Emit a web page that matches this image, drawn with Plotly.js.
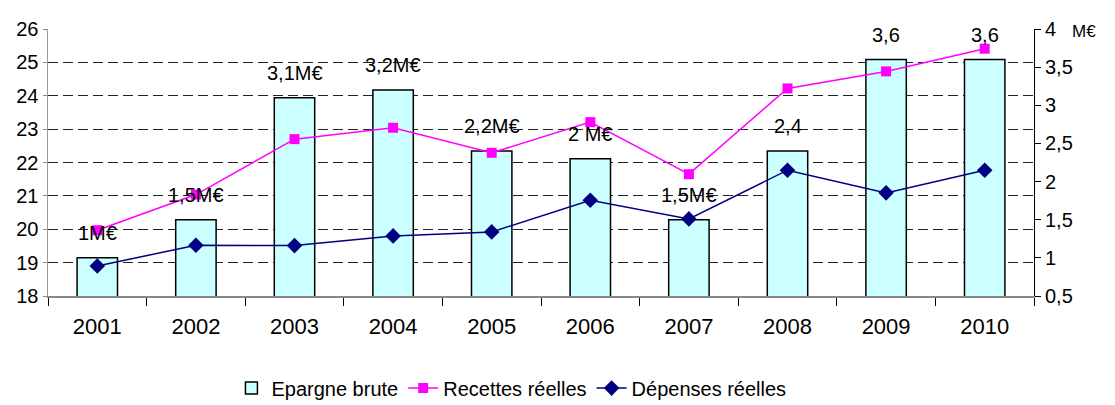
<!DOCTYPE html>
<html>
<head>
<meta charset="utf-8">
<script src="https://cdn.plot.ly/plotly-3.0.1.min.js"></script>
<style>html,body{margin:0;padding:0;background:#fff;}#chart{width:1115px;height:405px;}</style>
</head>
<body>
<div id="chart"></div>
<script>
const years = ['2001','2002','2003','2004','2005','2006','2007','2008','2009','2010'];
const epargneBrute = [1.0, 1.5, 3.1, 3.2, 2.4, 2.3, 1.5, 2.4, 3.6, 3.6];
const epargneLabels = ['1M€','1,5M€','3,1M€','3,2M€','2,2M€','2 M€','1,5M€','2,4','3,6','3,6'];
const recettes = [19.97, 21.04, 22.70, 23.04, 22.29, 23.21, 21.65, 24.22, 24.73, 25.41];
const depenses = [18.90, 19.52, 19.51, 19.80, 19.92, 20.87, 20.31, 21.77, 21.09, 21.77];
const rightTickVals = [0.5, 1, 1.5, 2, 2.5, 3, 3.5, 4];
const rightTickText = ['0,5', '1', '1,5', '2', '2,5', '3', '3,5', '4'];

const FONT = 'Liberation Sans, Arial, sans-serif';

const traces = [
  {
    type: 'bar', name: 'Epargne brute', x: years, y: epargneBrute, yaxis: 'y',
    marker: {color: '#CCFFFF', line: {color: '#000000', width: 1.5}},
    hoverinfo: 'skip'
  },
  {
    type: 'scatter', mode: 'lines+markers', name: 'Recettes réelles', x: years, y: recettes, yaxis: 'y2',
    line: {color: '#FF00FF', width: 1.5},
    marker: {symbol: 'square', size: 10, color: '#FF00FF'}
  },
  {
    type: 'scatter', mode: 'lines+markers', name: 'Dépenses réelles', x: years, y: depenses, yaxis: 'y2',
    line: {color: '#000080', width: 1.5},
    marker: {symbol: 'diamond', size: 12, color: '#000080'}
  }
];

const annotations = years.map((yr, i) => ({
  x: i, y: epargneBrute[i], xref: 'x', yref: 'y', yshift: 25,
  text: epargneLabels[i], showarrow: false,
  font: {family: FONT, size: 20, color: '#000'}
}));
annotations.push({
  xref: 'paper', yref: 'paper', x: 1.065, y: 1.035, text: 'M€', showarrow: false,
  font: {family: FONT, size: 17, color: '#000'}
});

const layout = {
  width: 1115, height: 405,
  margin: {l: 48, r: 81, t: 29, b: 109, autoexpand: false},
  paper_bgcolor: '#fff', plot_bgcolor: '#fff',
  font: {family: FONT, size: 19, color: '#000'},
  bargap: 0.59,
  showlegend: true,
  legend: {
    orientation: 'h', x: 0.47, xanchor: 'center', y: -0.345, yanchor: 'middle',
    font: {family: FONT, size: 20, color: '#000'}, traceorder: 'normal'
  },
  xaxis: {
    type: 'category', range: [-0.5, 9.5], autorange: false, showgrid: false, tickson: 'boundaries',
    ticks: 'outside', ticklen: 8, tickcolor: '#000', tickwidth: 1,
    showline: true, linecolor: '#888', linewidth: 1.5,
    ticklabelstandoff: 10,
    tickfont: {family: FONT, size: 22, color: '#000'}
  },
  yaxis: {
    range: [0.5, 4], autorange: false, side: 'right', showgrid: false, zeroline: false,
    tickvals: rightTickVals, ticktext: rightTickText,
    ticks: 'outside', ticklen: 6, tickcolor: '#000',
    showline: true, linecolor: '#000', linewidth: 1,
    tickfont: {family: FONT, size: 20, color: '#000'}
  },
  yaxis2: {
    range: [18, 26], autorange: false, dtick: 1, overlaying: 'y', side: 'left', zeroline: false,
    showgrid: true, gridcolor: '#222', griddash: '10px,5px', gridwidth: 1,
    ticks: 'outside', ticklen: 4, tickcolor: '#888',
    showline: true, linecolor: '#999', linewidth: 1.5,
    tickfont: {family: FONT, size: 20, color: '#000'}
  },
  annotations: annotations
};

Plotly.newPlot('chart', traces, layout, {staticPlot: true, displayModeBar: false});
</script>
</body>
</html>
